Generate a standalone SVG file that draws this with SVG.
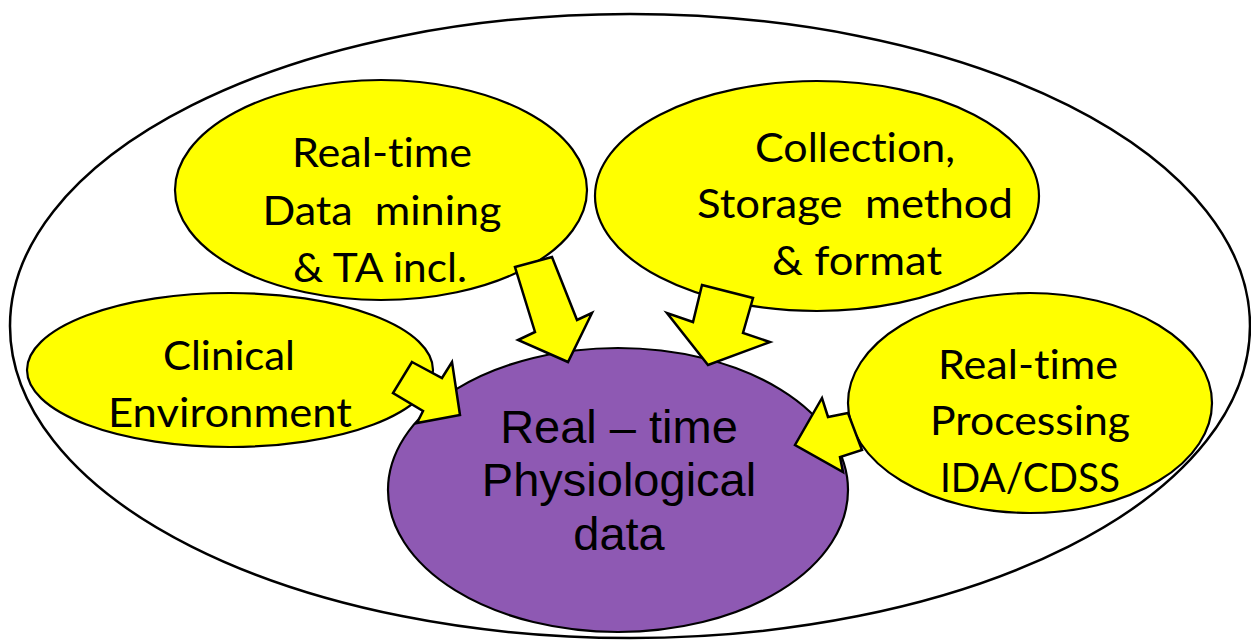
<svg xmlns="http://www.w3.org/2000/svg" width="1251" height="644" viewBox="0 0 1251 644">
  <style>
    .outer { fill: #ffffff; stroke: #000000; stroke-width: 2.5; }
    .topic { fill: #ffff00; stroke: #000000; stroke-width: 2.2; }
    .core { fill: #8e59b3; stroke: #000000; stroke-width: 2.2; }
    .arrow { fill: #ffff00; stroke: #000000; stroke-width: 2.5; stroke-linejoin: miter; }
    .lbl { font-family: Lato, "Liberation Sans", sans-serif; font-size: 41px; fill: #000000; text-anchor: middle; font-variant-ligatures: none; }
    .core-lbl { font-family: "Liberation Sans", Arial, sans-serif; font-size: 47px; fill: #000000; text-anchor: middle; }
  </style>

  <rect width="1251" height="644" fill="#ffffff"/>

  <!-- enclosing boundary -->
  <g id="boundary">
    <ellipse class="outer" cx="630" cy="326" rx="620" ry="312"/>
  </g>

  <!-- central node -->
  <g id="core">
    <ellipse class="core" cx="618" cy="490" rx="230" ry="142"/>
    <text class="core-lbl" x="619" y="443">Real – time</text>
    <text class="core-lbl" x="619" y="496">Physiological</text>
    <text class="core-lbl" x="619" y="550">data</text>
  </g>

  <g id="data-mining">
    <ellipse class="topic" cx="381" cy="190" rx="206" ry="110"/>
    <text class="lbl" x="382" y="167" textLength="180" lengthAdjust="spacingAndGlyphs">Real-time</text>
    <text class="lbl" x="382" y="225" xml:space="preserve" textLength="239" lengthAdjust="spacingAndGlyphs">Data  mining</text>
    <text class="lbl" x="380" y="282" textLength="174" lengthAdjust="spacingAndGlyphs">&amp; TA incl.</text>
  </g>

  <g id="collection">
    <ellipse class="topic" cx="817" cy="196" rx="222" ry="115"/>
    <text class="lbl" x="855" y="162" textLength="200" lengthAdjust="spacingAndGlyphs">Collection,</text>
    <text class="lbl" x="855" y="218" xml:space="preserve" textLength="316" lengthAdjust="spacingAndGlyphs">Storage  method</text>
    <text class="lbl" x="857" y="275" textLength="170" lengthAdjust="spacingAndGlyphs">&amp; format</text>
  </g>

  <g id="clinical">
    <ellipse class="topic" cx="230" cy="370" rx="203" ry="77"/>
    <text class="lbl" x="229" y="370" textLength="132" lengthAdjust="spacingAndGlyphs">Clinical</text>
    <text class="lbl" x="230" y="427" textLength="244" lengthAdjust="spacingAndGlyphs">Environment</text>
  </g>

  <g id="processing">
    <ellipse class="topic" cx="1030" cy="403" rx="182" ry="110"/>
    <text class="lbl" x="1028" y="379" textLength="180" lengthAdjust="spacingAndGlyphs">Real-time</text>
    <text class="lbl" x="1030" y="435" textLength="200" lengthAdjust="spacingAndGlyphs">Processing</text>
    <text class="lbl" x="1030" y="492" textLength="180" lengthAdjust="spacingAndGlyphs">IDA/CDSS</text>
  </g>

  <!-- block arrows pointing into the central node -->
  <g id="connectors">
    <polygon class="arrow" points="515,267 552,257 577,320 592,313 568,362 518,340 535,332"/>
    <polygon class="arrow" points="702,285 753,298 743,333 770,342 708,365 667,313 693,322"/>
    <polygon class="arrow" points="412,362 442,378 452,362 460,415 417,423 423,411 393,393"/>
    <polygon class="arrow" points="848,413 828,417 822,398 795,445 843,472 840,457 862,450"/>
  </g>
</svg>
